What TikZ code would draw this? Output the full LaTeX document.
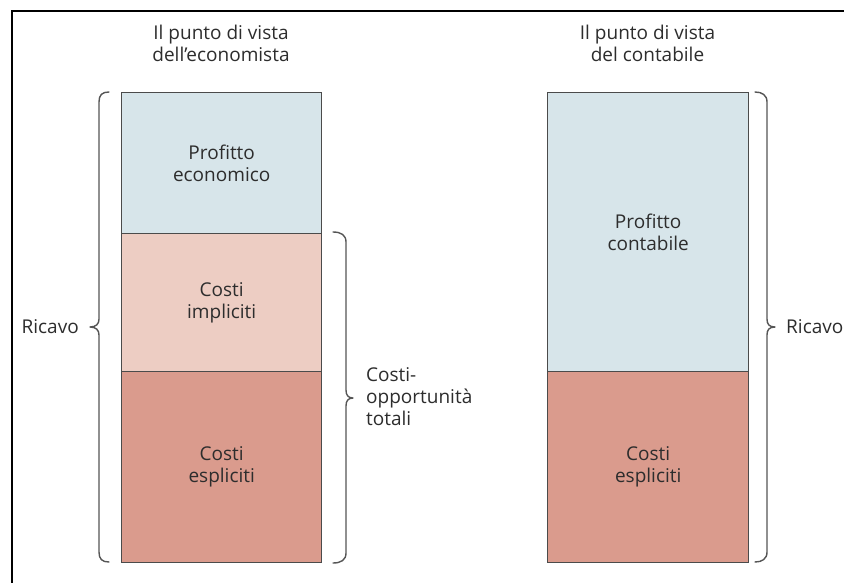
\documentclass[tikz,border=0pt]{standalone}
\usepackage{fontspec}
\setmainfont{Open Sans}
\definecolor{blu}{RGB}{215,229,234}
\definecolor{rosa}{RGB}{237,205,195}
\definecolor{rosso}{RGB}{218,155,141}
\definecolor{txt}{RGB}{45,45,45}
\definecolor{edgecol}{RGB}{75,75,75}
\definecolor{bracecol}{RGB}{85,85,85}
\begin{document}
\begin{tikzpicture}[x=1pt,y=-1pt,
  every node/.style={font=\fontsize{19}{22}\selectfont, text=txt, inner sep=0pt, align=center},
  seg/.style={draw=edgecol, line width=1.4pt, anchor=north west, minimum width=#1},
  seg/.default=200pt,
  bracepath/.style={draw=bracecol, line width=1.4pt, line cap=round, line join=round},
  framepath/.style={draw=black, line width=2pt}]
\useasboundingbox (0,0) rectangle (844,582);
\fill[white] (0,0) rectangle (844,582);
% frame
\draw[framepath] (12,590) -- (12,11) -- (850,11);
% titles
\node (t1) at (221,43) {Il punto di vista\\dell’economista};
\node (t2) at (647.5,43) {Il punto di vista\\del contabile};
% left bar
\node[seg, fill=blu, minimum height=141pt] (pe) at (121,92) {Profitto\\economico};
\node[seg, fill=rosa, minimum height=138pt] (ci) at (121,233) {Costi\\impliciti};
\node[seg, fill=rosso, minimum height=191pt] (ce) at (121,371) {Costi\\espliciti};
% right bar
\node[seg=201pt, fill=blu, minimum height=279pt] (pc) at (547,92) {Profitto\\contabile};
\node[seg=201pt, fill=rosso, minimum height=191pt] (ce2) at (547,371) {Costi\\espliciti};
% labels
\node[anchor=east] (r1) at (79,327) {Ricavo};
\node[anchor=west, align=left] (co) at (366,397) {Costi-\\opportunità\\totali};
\node[anchor=west] (r2) at (786,327) {Ricavo};
% braces
\draw[bracepath] (109,92) .. controls (102,92) and (99,95) .. (99,102) -- (99,319)
  .. controls (99,324) and (96,327) .. (90,327)
  .. controls (96,327) and (99,330) .. (99,335) -- (99,552)
  .. controls (99,559) and (102,562) .. (109,562);
\draw[bracepath] (333,232) .. controls (341,232) and (346,235) .. (346,242) -- (346,390)
  .. controls (346,395) and (348,398) .. (353,398)
  .. controls (348,398) and (346,401) .. (346,406) -- (346,553)
  .. controls (346,560) and (341,563) .. (333,563);
\draw[bracepath] (755,92) .. controls (762,92) and (767,95) .. (767,102) -- (767,319)
  .. controls (767,324) and (769,327) .. (775,327)
  .. controls (769,327) and (767,330) .. (767,335) -- (767,552)
  .. controls (767,559) and (762,562) .. (755,562);
\end{tikzpicture}
\end{document}
